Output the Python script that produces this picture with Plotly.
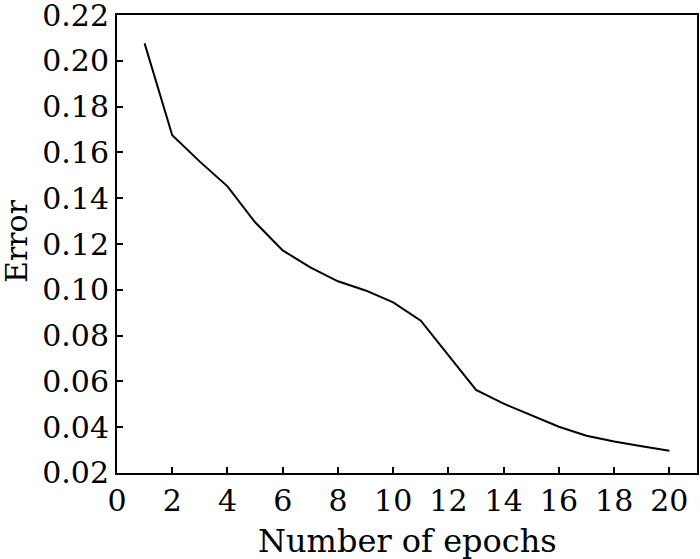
import plotly.graph_objects as go

epochs = list(range(1, 21))
error = [0.2077, 0.1675, 0.1560, 0.1452, 0.1295, 0.1172, 0.1098, 0.1037, 0.0997, 0.0945,
         0.0865, 0.0714, 0.0562, 0.0502, 0.0452, 0.0401, 0.0362, 0.0337, 0.0316, 0.0296]
x_ticks = list(range(0, 21, 2))
y_ticks = [0.02, 0.04, 0.06, 0.08, 0.10, 0.12, 0.14, 0.16, 0.18, 0.20, 0.22]

FONT = "DejaVu Serif"

fig = go.Figure()
fig.add_trace(go.Scatter(x=epochs, y=error, mode="lines",
                         line=dict(color="black", width=2), showlegend=False))

fig.update_layout(
    width=700, height=559,
    margin=dict(l=117, r=3, t=15, b=86),
    paper_bgcolor="white", plot_bgcolor="white",
    font=dict(family=FONT, size=30, color="black"),
)
fig.update_xaxes(
    range=[0, 21], tickvals=x_ticks, ticks="inside", ticklen=6, tickwidth=1.5,
    tickcolor="black", showline=True, linecolor="black", linewidth=2, mirror=True,
    showgrid=False, zeroline=False, automargin=False, ticklabeloverflow="allow",
    tickfont=dict(family=FONT, size=30),
)
fig.update_yaxes(
    range=[0.0199, 0.2201], tickvals=y_ticks, tickformat=".2f", ticks="inside", ticklen=6,
    tickwidth=1.5, tickcolor="black", showline=True, linecolor="black", linewidth=2,
    mirror=True, showgrid=False, zeroline=False, automargin=False, ticklabeloverflow="allow",
    tickfont=dict(family=FONT, size=30),
)
fig.add_annotation(text="Number of epochs", xref="paper", yref="paper",
                   x=0.5, y=-68 / 458,
                   xanchor="center", yanchor="middle", showarrow=False,
                   font=dict(family=FONT, size=32))
fig.add_annotation(text="Error", xref="paper", yref="paper",
                   x=-(117 - 16) / 580, y=(473 - 241) / 458,
                   xanchor="center", yanchor="middle", textangle=-90, showarrow=False,
                   font=dict(family=FONT, size=30))

fig.write_html("out.html", config={"displayModeBar": False},
               post_script="document.body.style.margin='0';")
